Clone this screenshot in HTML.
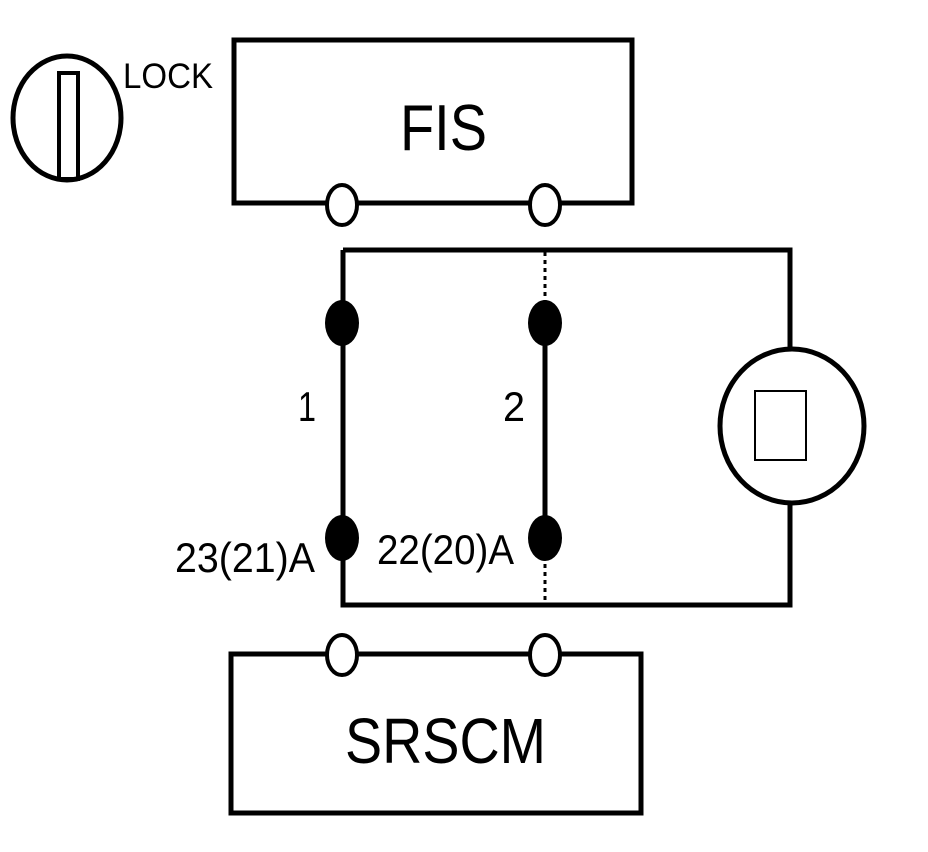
<!DOCTYPE html>
<html><head><meta charset="utf-8"><style>html,body{margin:0;padding:0;background:#fff}svg{display:block}text{font-family:"Liberation Sans",sans-serif;fill:#000}</style></head>
<body>
<svg width="928" height="852" viewBox="0 0 928 852" xmlns="http://www.w3.org/2000/svg">
<g fill="none" stroke="#000" stroke-width="5">
<ellipse cx="67" cy="118" rx="54" ry="62"/>
<rect x="59" y="73" width="19" height="106" stroke-width="4"/>
<rect x="234" y="40" width="398" height="163"/>
<rect x="231" y="654" width="410" height="159"/>
<path d="M343 250 H790 V348 M790 504 V605 H343 V250"/>
<line x1="545" y1="323" x2="545" y2="538"/>
<line x1="545" y1="252" x2="545" y2="322" stroke-width="3" stroke-dasharray="4 4"/>
<line x1="545" y1="540" x2="545" y2="603" stroke-width="3" stroke-dasharray="4 4"/>
<ellipse cx="792" cy="426" rx="72" ry="77"/>
<rect x="755" y="391" width="51" height="69" stroke-width="2"/>
</g>
<g fill="#fff" stroke="#000" stroke-width="4">
<ellipse cx="342" cy="205" rx="15" ry="20"/>
<ellipse cx="545" cy="205" rx="15" ry="20"/>
<ellipse cx="342" cy="655" rx="15" ry="20"/>
<ellipse cx="545" cy="655" rx="15" ry="20"/>
</g>
<g fill="#000">
<ellipse cx="342" cy="323" rx="17" ry="23"/>
<ellipse cx="545" cy="323" rx="17" ry="23"/>
<ellipse cx="342" cy="538" rx="17" ry="23"/>
<ellipse cx="545" cy="538" rx="17" ry="23"/>
</g>
<text x="123" y="88" font-size="35" textLength="90" lengthAdjust="spacingAndGlyphs">LOCK</text>
<text x="400" y="150" font-size="65" textLength="87" lengthAdjust="spacingAndGlyphs">FIS</text>
<text x="345" y="763" font-size="64" textLength="201" lengthAdjust="spacingAndGlyphs">SRSCM</text>
<text x="298" y="421" font-size="42" textLength="18" lengthAdjust="spacingAndGlyphs">1</text>
<text x="503" y="421" font-size="42" textLength="22" lengthAdjust="spacingAndGlyphs">2</text>
<text x="175" y="572" font-size="42" textLength="140" lengthAdjust="spacingAndGlyphs">23(21)A</text>
<text x="377" y="564" font-size="42" textLength="137" lengthAdjust="spacingAndGlyphs">22(20)A</text>
</svg>
</body></html>
